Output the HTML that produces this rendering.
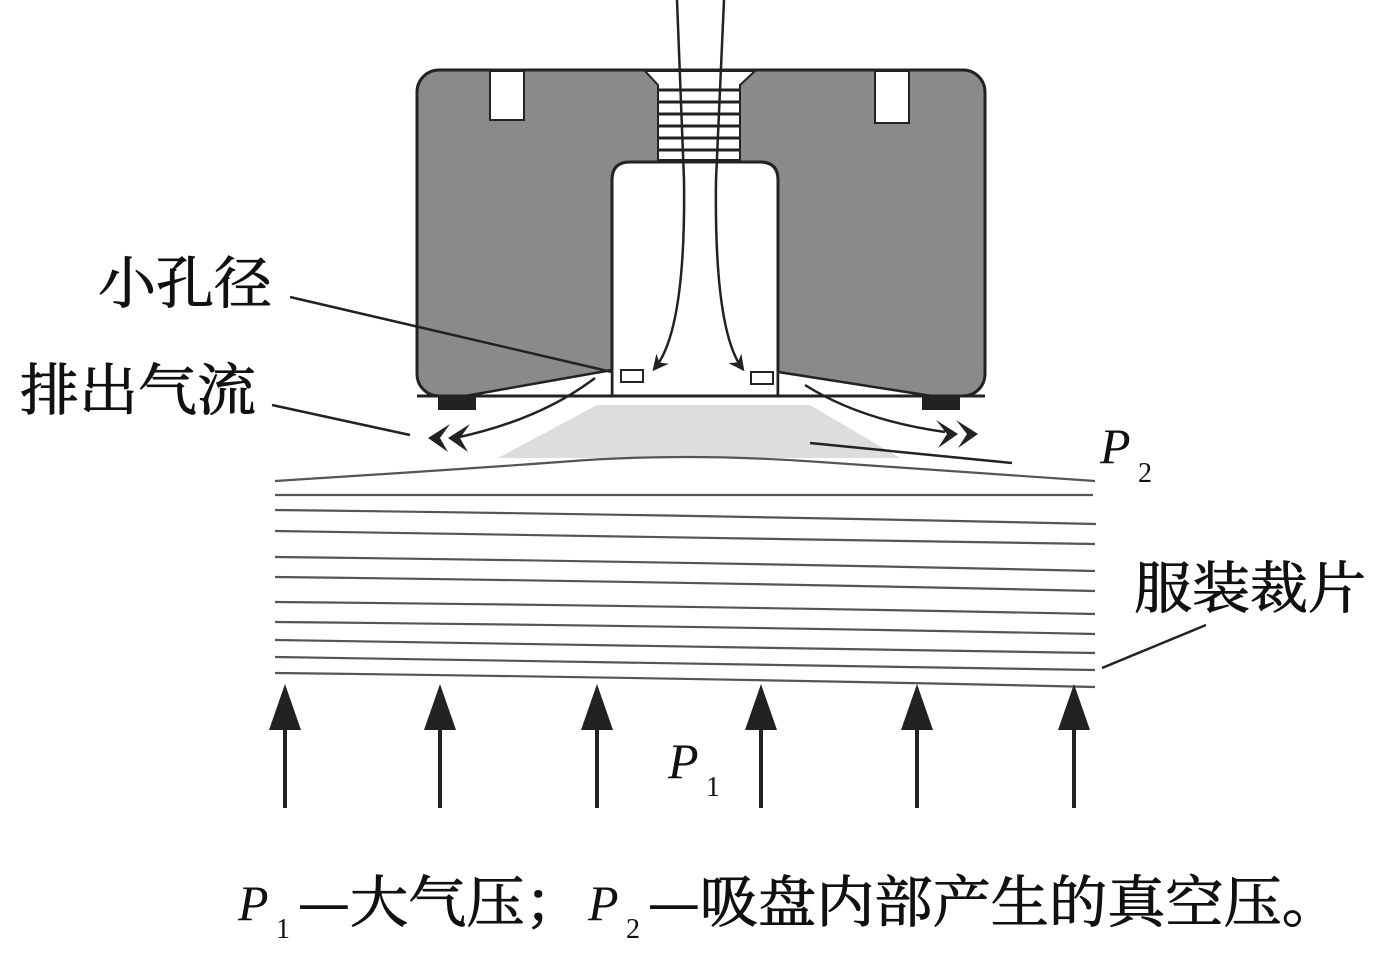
<!DOCTYPE html>
<html><head><meta charset="utf-8"><style>
html,body{margin:0;padding:0;background:#fff;}
svg{display:block}
.cjk{font-family:"Noto Serif CJK SC","Liberation Serif",serif;font-size:56px;fill:#111;stroke:#111;stroke-width:0.9;}
.it{font-family:"Liberation Serif",serif;font-style:italic;font-size:50px;fill:#111;}
.sub{font-family:"Liberation Serif",serif;font-size:28px;fill:#111;}
</style></head><body>
<svg width="1394" height="954" viewBox="0 0 1394 954" xmlns="http://www.w3.org/2000/svg">
<defs>
<marker id="ah" markerWidth="16" markerHeight="16" refX="12" refY="8" orient="auto" markerUnits="userSpaceOnUse"><path d="M0,0 L16,8 L0,16 L5,8Z" fill="#222"/></marker>
</defs>
<rect x="417" y="70" width="568" height="326" rx="22" fill="#8a8a8a" stroke="#222" stroke-width="3"/>
<rect x="438" y="396" width="38" height="14" fill="#222"/>
<rect x="922" y="396" width="38" height="14" fill="#222"/>
<rect x="490" y="71" width="34" height="49" fill="#fff" stroke="#222" stroke-width="2"/>
<rect x="875" y="71" width="34" height="52" fill="#fff" stroke="#222" stroke-width="2"/>
<path d="M645,71 L755,71 L740,85 L740,160 L658,160 L658,85 Z" fill="#fff" stroke="#222" stroke-width="2"/>
<g stroke="#222" stroke-width="3">
<line x1="658" y1="90" x2="740" y2="90"/><line x1="658" y1="102" x2="740" y2="102"/>
<line x1="658" y1="114" x2="740" y2="114"/><line x1="658" y1="126" x2="740" y2="126"/>
<line x1="658" y1="138" x2="740" y2="138"/><line x1="658" y1="150" x2="740" y2="150"/>
</g>
<path d="M612,396 L612,180 Q612,162 630,162 L760,162 Q778,162 778,180 L778,396 Z" fill="#fff" stroke="#222" stroke-width="3"/>
<path d="M465,396 L612,370 L612,396 Z" fill="#fff" stroke="#222" stroke-width="2.5"/>
<path d="M932,396 L778,372 L778,396 Z" fill="#fff" stroke="#222" stroke-width="2.5"/>
<line x1="417" y1="396" x2="985" y2="396" stroke="#222" stroke-width="3"/>
<rect x="621" y="370" width="22" height="12" fill="#fff" stroke="#222" stroke-width="2"/>
<rect x="751" y="372" width="22" height="12" fill="#fff" stroke="#222" stroke-width="2"/>
<path d="M677,0 L684,180 Q686,330 655,368" fill="none" stroke="#222" stroke-width="2.5" marker-end="url(#ah)"/>
<path d="M724,0 L716,180 Q714,330 742,368" fill="none" stroke="#222" stroke-width="2.5" marker-end="url(#ah)"/>
<path d="M597,405 L810,405 L900,458 L498,458 Z" fill="#dcdddc"/>
<path d="M595,378 Q540,420 455,438" fill="none" stroke="#222" stroke-width="2.5"/>
<path d="M805,385 Q860,420 945,432" fill="none" stroke="#222" stroke-width="2.5"/>
<path d="M450,424 L428,438 L448,452 L440,438 Z M470,424 L448,438 L468,452 L460,438Z" fill="#222"/>
<path d="M936,420 L958,434 L938,448 L947,434 Z M956,420 L978,434 L958,448 L967,434Z" fill="#222"/>
<g stroke="#222" stroke-width="2.5">
<line x1="290" y1="297" x2="612" y2="372"/>
<line x1="272" y1="405" x2="410" y2="435"/>
<line x1="810" y1="443" x2="1012" y2="463"/>
<line x1="1102" y1="668" x2="1206" y2="625"/>
</g>
<g fill="none" stroke="#555" stroke-width="2.2">
<path d="M275,481 Q450,470 560,462 Q680,452 820,462 Q960,472 1095,481"/>
<path d="M275,495 L1093,495"/>
<path d="M275,510 Q700,515 1096,524"/>
<path d="M275,531 Q700,536 1095,544"/>
<path d="M275,557 Q700,562 1095,571"/>
<path d="M275,577 Q700,582 1095,591"/>
<path d="M275,602 Q700,606 1095,614"/>
<path d="M275,622 Q700,626 1095,634"/>
<path d="M275,640 Q700,645 1095,653"/>
<path d="M275,657 Q700,662 1095,670"/>
<path d="M275,673 Q700,678 1095,687"/>
</g>
<g fill="#222" stroke="#222">
<g transform="translate(285,0)"><line x1="0" y1="720" x2="0" y2="808" stroke-width="4"/><path d="M-16,730 L0,684 L16,730Z" stroke="none"/></g>
<g transform="translate(440,0)"><line x1="0" y1="720" x2="0" y2="808" stroke-width="4"/><path d="M-16,730 L0,684 L16,730Z" stroke="none"/></g>
<g transform="translate(597,0)"><line x1="0" y1="720" x2="0" y2="808" stroke-width="4"/><path d="M-16,730 L0,684 L16,730Z" stroke="none"/></g>
<g transform="translate(761,0)"><line x1="0" y1="720" x2="0" y2="808" stroke-width="4"/><path d="M-16,730 L0,684 L16,730Z" stroke="none"/></g>
<g transform="translate(917,0)"><line x1="0" y1="720" x2="0" y2="808" stroke-width="4"/><path d="M-16,730 L0,684 L16,730Z" stroke="none"/></g>
<g transform="translate(1074,0)"><line x1="0" y1="720" x2="0" y2="808" stroke-width="4"/><path d="M-16,730 L0,684 L16,730Z" stroke="none"/></g>
</g>
<text class="cjk" x="98" y="303" textLength="174" lengthAdjust="spacingAndGlyphs">小孔径</text>
<text class="cjk" x="20" y="410" textLength="236" lengthAdjust="spacingAndGlyphs">排出气流</text>
<text class="cjk" x="1134" y="608" textLength="232" lengthAdjust="spacingAndGlyphs">服装裁片</text>
<text class="it" x="1100" y="463">P</text><text class="sub" x="1138" y="482">2</text>
<text class="it" x="668" y="778">P</text><text class="sub" x="706" y="796">1</text>
<text class="it" x="238" y="920">P</text><text class="sub" x="276" y="938">1</text>
<text class="cjk" x="298" y="922" textLength="285" lengthAdjust="spacingAndGlyphs">—大气压；</text>
<text class="it" x="588" y="920">P</text><text class="sub" x="626" y="938">2</text>
<text class="cjk" x="648" y="922" textLength="692" lengthAdjust="spacingAndGlyphs">—吸盘内部产生的真空压。</text>
</svg>
</body></html>
